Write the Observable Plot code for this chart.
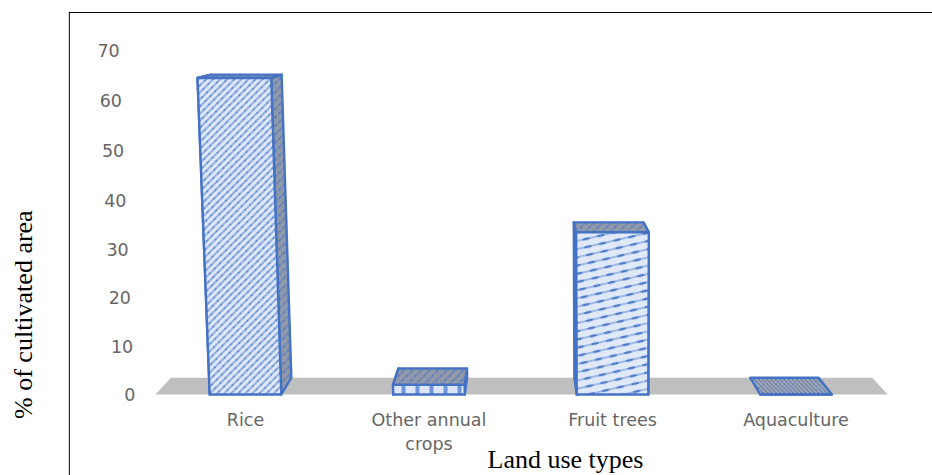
<!DOCTYPE html>
<html><head><meta charset="utf-8">
<style>html,body{margin:0;padding:0;background:#fff;overflow:hidden}svg{display:block}</style>
<script src="https://cdn.jsdelivr.net/npm/d3@7"></script>
<script src="https://cdn.jsdelivr.net/npm/@observablehq/plot@0.6"></script>
</head><body><div id="chart"></div>
<script>
const categories = ["Rice", "Other annual\ncrops", "Fruit trees", "Aquaculture"];
const values = [64.5, 2, 33.5, 0];
const frontPatterns = ["url(#pRice)", "url(#pOther)", "url(#pFruit)", "url(#pAqua)"];
const yTicks = [0, 10, 20, 30, 40, 50, 60, 70];
const yPixels = [394, 346, 297, 249, 200, 150, 100, 50];

const halfWidth = 0.195, depthShift = 0.042, depthRise = 3.5, lean = 0.00047;
const blue = "#4472c4";

// 3D projection of the column box into the chart's own data units
function project(u, depth, v) {
  const ud = u + (1.5 - u) * depthShift * depth;
  return { x: ud + (ud - 2) * lean * v, y: v + depth * depthRise * (1 - v / 80) };
}
function poly(corners) {
  const pts = corners.map(([u, d, v]) => project(u, d, v));
  return [...pts, pts[0]];
}
const sides = [], tops = [], fronts = [];
categories.forEach((c, i) => {
  const l = i - halfWidth, r = i + halfWidth, v = values[i];
  if (v > 0) {
    sides.push({ p: poly([[l, 0, 0], [l, 1, 0], [l, 1, v], [l, 0, v]]) });
    sides.push({ p: poly([[r, 0, 0], [r, 1, 0], [r, 1, v], [r, 0, v]]) });
  }
  tops.push({ p: poly([[l, 0, v], [r, 0, v], [r, 1, v], [l, 1, v]]), fill: v > 0 ? "url(#pTop)" : "url(#pAqua)" });
  fronts.push({ p: poly([[l, 0, 0], [r, 0, 0], [r, 0, v], [l, 0, v]]), fill: frontPatterns[i] });
});
const floor = poly([[-0.49, 0, 0], [3.5, 0, 0], [3.5, 1, 0], [-0.49, 1, 0]]);
const face = (f, fill) => Plot.line(f.p, { x: "x", y: "y", fill: fill || f.fill, stroke: blue, strokeWidth: 2.4, strokeLinejoin: "round", curve: "linear" });

const defs = () => {
  const g = d3.create("svg:defs");
  g.html(`
  <pattern id="pRice" width="5" height="7" patternUnits="userSpaceOnUse" patternTransform="rotate(45)">
    <rect width="5" height="7" fill="#dde7f7"/><rect x="0" width="2" height="7" fill="#93b0e3"/><circle cx="1" cy="3" r="1" fill="#5a84d0"/>
  </pattern>
  <pattern id="pOther" width="14" height="8" patternUnits="userSpaceOnUse">
    <rect width="14" height="8" fill="#dce6f6"/><rect x="9" width="4" height="8" fill="#6f95d8"/>
  </pattern>
  <pattern id="pFruit" width="15" height="8" patternUnits="userSpaceOnUse" patternTransform="rotate(-13)">
    <rect width="15" height="8" fill="#e0e9f8"/><path d="M0 4H15" stroke="#8fade2" stroke-width="1.6"/><ellipse cx="7" cy="4" rx="4" ry="1.3" fill="#4f7bcb"/>
  </pattern>
  <pattern id="pTop" width="6" height="6" patternUnits="userSpaceOnUse" patternTransform="rotate(45)">
    <rect width="6" height="6" fill="#9099a8"/><rect x="0" width="1.5" height="6" fill="#7189bb"/><circle cx="1" cy="2" r="0.8" fill="#3f6bbd"/>
  </pattern>
  <pattern id="pAqua" width="3" height="3" patternUnits="userSpaceOnUse" patternTransform="rotate(45)">
    <rect width="3" height="3" fill="#8b93a3"/><rect width="1" height="3" fill="#5f7cb5"/><rect width="3" height="1" fill="#a8b2c6"/>
  </pattern>`);
  return g.node();
};

const sansFont = "'DejaVu Sans', sans-serif", serifFont = "'Liberation Serif', serif";
const labelGray = "#666666";
const chart = Plot.plot({
  width: 932, height: 475,
  marginLeft: 134, marginBottom: 81, marginTop: 12, marginRight: 0,
  style: { background: "#fff", overflow: "hidden" },
  x: { type: "linear", domain: [-245 / 183.5, 687 / 183.5], range: [0, 932], axis: null },
  y: { type: "linear", domain: yTicks, range: yPixels, axis: null },
  marks: [
    defs,
    Plot.ruleX([-0.96], { y1: -17, y2: 77.6, stroke: "#000", strokeWidth: 1 }),
    Plot.ruleY([77.6], { x1: -0.96, x2: 3.75, stroke: "#000", strokeWidth: 1 }),
    Plot.line(floor, { x: "x", y: "y", fill: "#bfbfbf", stroke: "none", curve: "linear" }),
    ...sides.map(f => face(f, "url(#pTop)")),
    ...tops.map(f => face(f)),
    ...fronts.map(f => face(f)),
    Plot.text(yTicks, { x: t => project(-0.6, 0, t).x, y: t => t, text: t => String(t), textAnchor: "end", dy: 1, fill: labelGray, fontSize: 17.5, fontFamily: sansFont }),
    Plot.axisX({ ticks: [0, 1, 2, 3], tickFormat: i => categories[i], tickSize: 0, tickPadding: 15, label: null, lineHeight: 1.34, fill: labelGray, fontSize: 17.5, fontFamily: sansFont, lineWidth: Infinity }),
    Plot.text(["Land use types"], { x: (565 - 245) / 183.5, y: -13.6, fontFamily: serifFont, fontSize: 26, fill: "#000" }),
    Plot.text(["% of cultivated area"], { x: (23.5 - 245) / 183.5, y: 16.5, rotate: -90, fontFamily: serifFont, fontSize: 26, fill: "#000" })
  ]
});
document.getElementById("chart").appendChild(chart);
</script></body></html>
